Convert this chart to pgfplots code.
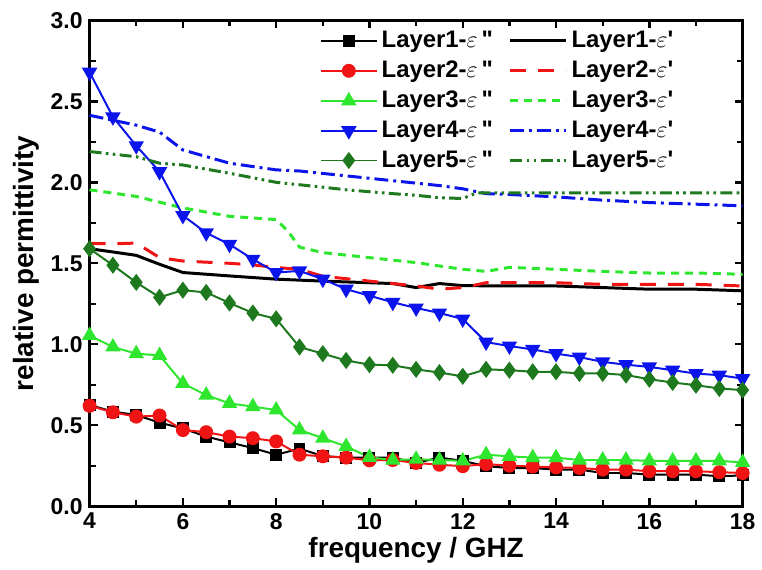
\documentclass[border=0pt]{standalone}
\usepackage{pgfplots}
\pgfplotsset{compat=1.18}
\usepackage{fontspec}
\setmainfont{Liberation Sans}

\definecolor{cred}{RGB}{240,20,20}
\definecolor{cgreen}{RGB}{45,230,45}
\definecolor{cblue}{RGB}{10,20,235}
\definecolor{cdkgreen}{RGB}{30,120,30}

\newcommand{\epp}{$\varepsilon$\,\textquotedbl}
\newcommand{\ep}{$\varepsilon$\textquotesingle}

\begin{document}
\begin{tikzpicture}
\begin{axis}[
  name=ax,
  scale only axis,
  width=328pt, height=244pt,
  xmin=4, xmax=18, ymin=0, ymax=3,
  xtick={4,6,...,18}, minor x tick num=1,
  ytick={0,0.5,...,3}, minor y tick num=1,
  tick align=inside,
  major tick length=4pt, minor tick length=3pt,
  every tick/.style={black, line width=1.2pt},
  axis line style={line width=1.6pt},
  /pgf/number format/assume math mode=true,
  ticklabel style={font=\bfseries\fontsize{11.5}{13}\selectfont},
  yticklabel style={/pgf/number format/.cd, fixed, fixed zerofill, precision=1},
  xlabel={frequency / GHZ},
  ylabel={relative permittivity},
  label style={font=\bfseries\fontsize{14}{16}\selectfont},
  xlabel style={yshift=3pt},
  ylabel style={yshift=-1pt},
  legend columns=2,
  legend cell align=left,
  legend style={draw=none, fill=none, at={(0.343,0.995)}, anchor=north west,
    font=\bfseries\fontsize{12}{14}\selectfont,
    /tikz/every even column/.append style={column sep=6pt},
    row sep=1.2pt},
  legend image code/.code={\draw[mark repeat=2,mark phase=2,#1] plot coordinates {(0pt,0pt) (14pt,0pt) (28pt,0pt)};},
  clip=false,
]
% ---- layer 1
\addplot[black, line width=1pt, mark=square*, mark size=2.5pt, mark options={solid}]
  coordinates {(4,0.625) (4.5,0.584) (5,0.563) (5.5,0.516) (6,0.48) (6.5,0.43) (7,0.394) (7.5,0.359) (8,0.318) (8.5,0.355) (9,0.31) (9.5,0.30) (10,0.30) (10.5,0.30) (11,0.267) (11.5,0.30) (12,0.28) (12.5,0.247) (13,0.236) (13.5,0.235) (14,0.226) (14.5,0.226) (15,0.205) (15.5,0.205) (16,0.195) (16.5,0.195) (17,0.195) (17.5,0.185) (18,0.19)};
\addlegendentry{Layer1-\epp}
\addplot[black, line width=1.5pt]
  coordinates {(4,1.59) (4.5,1.57) (5,1.549) (5.5,1.494) (6,1.443) (7,1.422) (8,1.402) (9,1.39) (10,1.38) (10.5,1.375) (11,1.35) (11.5,1.375) (12,1.362) (13,1.36) (14,1.36) (15,1.35) (16,1.34) (17,1.34) (18,1.33)};
\addlegendentry{Layer1-\ep}
% ---- layer 2
\addplot[cred, line width=1pt, mark=*, mark size=3pt, mark options={solid}]
  coordinates {(4,0.62) (4.5,0.58) (5,0.553) (5.5,0.56) (6,0.47) (6.5,0.457) (7,0.43) (7.5,0.42) (8,0.40) (8.5,0.318) (9,0.308) (9.5,0.30) (10,0.283) (10.5,0.285) (11,0.267) (11.5,0.256) (12,0.247) (12.5,0.26) (13,0.25) (13.5,0.245) (14,0.24) (14.5,0.236) (15,0.226) (15.5,0.226) (16,0.216) (16.5,0.216) (17,0.216) (17.5,0.21) (18,0.205)};
\addlegendentry{Layer2-\epp}
\addplot[cred, line width=1.5pt, dash pattern=on 8pt off 6pt]
  coordinates {(4,1.623) (4.5,1.62) (5,1.625) (5.5,1.535) (6,1.514) (7,1.50) (7.5,1.49) (8,1.474) (8.5,1.463) (9,1.42) (10,1.39) (11,1.36) (11.5,1.34) (12,1.35) (12.5,1.38) (13,1.38) (14,1.38) (15,1.37) (16,1.37) (17,1.37) (18,1.36)};
\addlegendentry{Layer2-\ep}
% ---- layer 3
\addplot[cgreen, line width=1pt, mark=triangle*, mark size=3.5pt, mark options={solid}]
  coordinates {(4,1.054) (4.5,0.983) (5,0.942) (5.5,0.931) (6,0.758) (6.5,0.686) (7,0.635) (7.5,0.615) (8,0.594) (8.5,0.471) (9,0.42) (9.5,0.369) (10,0.302) (10.5,0.285) (11,0.29) (11.5,0.285) (12,0.28) (12.5,0.318) (13,0.308) (13.5,0.30) (14,0.30) (14.5,0.285) (15,0.285) (15.5,0.285) (16,0.28) (16.5,0.28) (17,0.28) (17.5,0.28) (18,0.27)};
\addlegendentry{Layer3-\epp}
\addplot[cgreen, line width=1.5pt, dash pattern=on 4pt off 3pt]
  coordinates {(4,1.954) (5,1.913) (6,1.842) (7,1.79) (8,1.77) (8.25,1.70) (8.5,1.60) (9,1.566) (10,1.535) (11,1.504) (12,1.463) (12.5,1.45) (13,1.475) (14,1.463) (15,1.45) (16,1.44) (17,1.44) (18,1.432)};
\addlegendentry{Layer3-\ep}
% ---- layer 4
\addplot[cblue, line width=1pt, mark=triangle*, mark size=3.5pt, mark options={solid, rotate=180}]
  coordinates {(4,2.68) (4.5,2.404) (5,2.226) (5.5,2.066) (6,1.795) (6.5,1.688) (7,1.617) (7.5,1.525) (8,1.443) (8.5,1.453) (9,1.402) (9.5,1.34) (10,1.30) (10.5,1.259) (11,1.224) (11.5,1.193) (12,1.156) (12.5,1.013) (13,0.989) (13.5,0.968) (14,0.942) (14.5,0.921) (15,0.891) (15.5,0.874) (16,0.86) (16.5,0.84) (17,0.819) (17.5,0.809) (18,0.788)};
\addlegendentry{Layer4-\epp}
\addplot[cblue, line width=1.5pt, dash pattern=on 7pt off 2.5pt on 1.5pt off 2.5pt]
  coordinates {(4,2.414) (5,2.353) (5.5,2.31) (6,2.20) (7,2.118) (8,2.077) (8.5,2.07) (9.5,2.04) (10.5,2.01) (11.5,1.98) (12,1.96) (12.5,1.93) (13,1.925) (14,1.91) (15,1.89) (16,1.875) (17,1.865) (18,1.855)};
\addlegendentry{Layer4-\ep}
% ---- layer 5
\addplot[cdkgreen, line width=1pt, mark=diamond*, mark size=3.5pt, mark options={solid}]
  coordinates {(4,1.59) (4.5,1.488) (5,1.382) (5.5,1.29) (6,1.334) (6.5,1.32) (7,1.255) (7.5,1.193) (8,1.157) (8.5,0.983) (9,0.942) (9.5,0.90) (10,0.874) (10.5,0.87) (11,0.845) (11.5,0.825) (12,0.802) (12.5,0.845) (13,0.84) (13.5,0.83) (14,0.83) (14.5,0.82) (15,0.82) (15.5,0.81) (16,0.784) (16.5,0.764) (17,0.747) (17.5,0.727) (18,0.717)};
\addlegendentry{Layer5-\epp}
\addplot[cdkgreen, line width=1.5pt, dash pattern=on 6pt off 2.2pt on 1.3pt off 2.2pt on 1.3pt off 2.2pt]
  coordinates {(4,2.19) (5,2.158) (5.5,2.118) (6,2.107) (7,2.056) (8,2.0) (9,1.97) (9.5,1.954) (10.5,1.93) (11,1.92) (11.5,1.905) (12,1.90) (12.3,1.935) (13,1.935) (14,1.935) (15,1.935) (16,1.935) (17,1.935) (18,1.935)};
\addlegendentry{Layer5-\ep}
\end{axis}
\path[use as bounding box] ([shift={(-45pt,-31.75pt)}]ax.south west) rectangle ++(381pt,286pt);
\end{tikzpicture}
\end{document}
